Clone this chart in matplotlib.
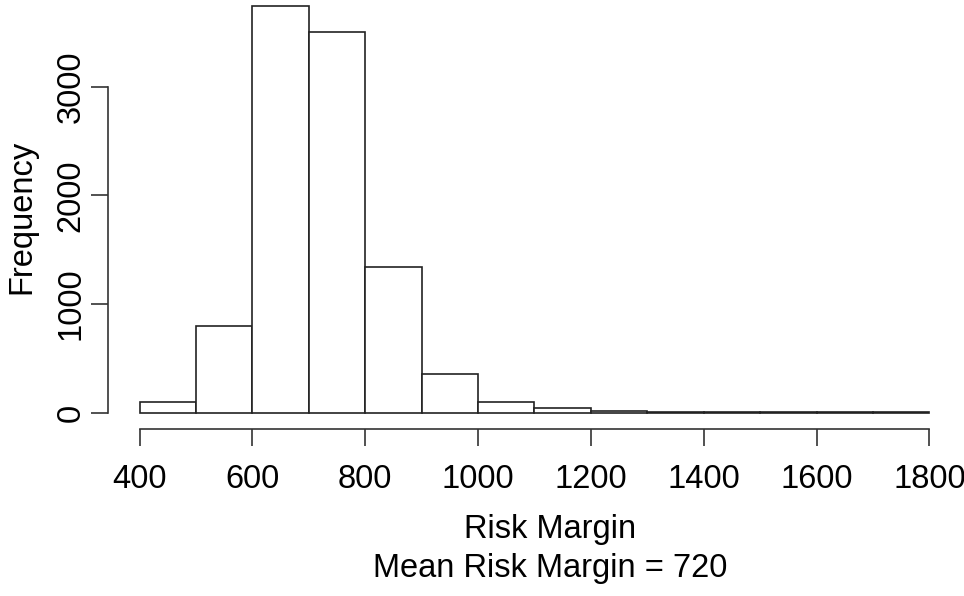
import numpy as np
import matplotlib
matplotlib.use("Agg")
import matplotlib.pyplot as plt

# histogram of simulated risk margin (counts)
bin_edges = [400, 500, 600, 700, 800, 900, 1000, 1100, 1200, 1300, 1400, 1500, 1600, 1700, 1800]
counts = [95, 800, 3750, 3505, 1345, 355, 95, 38, 12, 5, 3, 2, 2, 1]
x_ticks = [400, 600, 800, 1000, 1200, 1400, 1600, 1800]
y_ticks = [0, 1000, 2000, 3000]

plt.rcParams['font.family'] = ['Liberation Sans', 'DejaVu Sans']
fs = 23.5

fig = plt.figure(figsize=(9.64, 5.96), dpi=100)
W, H = 964, 596
# plot region in pixels (R style, 4% axis expansion)
left, right, bottom, top = 108, 961, 428.8, -10.7
ax = fig.add_axes([left / W, 1 - bottom / H, (right - left) / W, (bottom - top) / H])

ax.bar(bin_edges[:-1], counts, width=np.diff(bin_edges), align='edge',
       facecolor='white', edgecolor='#222222', linewidth=1.2)

ax.set_xlim(344, 1856)
ax.set_ylim(-150, 3900)
ax.spines['top'].set_visible(False)
ax.spines['right'].set_visible(False)
ax.spines['left'].set_bounds(0, 3000)
ax.spines['bottom'].set_bounds(400, 1800)
for s in ('left', 'bottom'):
    ax.spines[s].set_linewidth(1.2)
    ax.spines[s].set_color('#333333')

ax.set_xticks(x_ticks)
ax.set_yticks(y_ticks)
ax.set_yticklabels([str(v) for v in y_ticks], rotation=90, va='center')
ax.tick_params(axis='both', direction='out', length=12, width=1.2, color='#333333',
               labelsize=fs)
ax.tick_params(axis='x', pad=13)
ax.tick_params(axis='y', pad=3.5)
ax.patch.set_visible(False)

fig.text(22 / W, 1 - 217 / H, "Frequency", rotation=90, ha='center', va='center', fontsize=fs)
fig.text(550 / W, 1 - 538 / H, "Risk Margin", ha='center', va='baseline', fontsize=fs)
fig.text(550 / W, 1 - 577 / H, "Mean Risk Margin = 720", ha='center', va='baseline', fontsize=fs)

fig.savefig("out.png", dpi=100)
